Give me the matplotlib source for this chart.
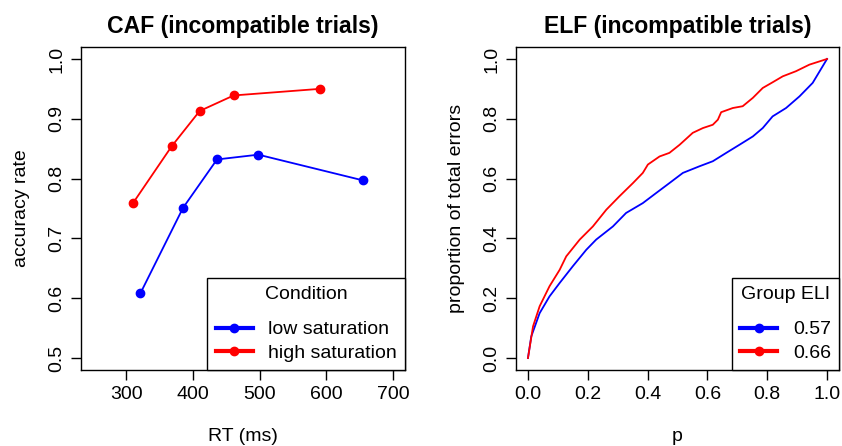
import matplotlib.pyplot as plt
import numpy as np

plt.rcParams['font.family'] = ['Liberation Sans', 'DejaVu Sans']

# CAF data
rt_low = [321, 385, 436, 498, 655]
acc_low = [0.608, 0.751, 0.832, 0.840, 0.797]
rt_high = [310, 368, 410, 461, 590]
acc_high = [0.759, 0.854, 0.913, 0.939, 0.950]
caf_labels = ['low saturation', 'high saturation']

# ELF data
p_057 = [0.0, 0.011, 0.039, 0.072, 0.106, 0.15, 0.195, 0.228, 0.284, 0.328, 0.384,
         0.429, 0.473, 0.518, 0.573, 0.618, 0.663, 0.707, 0.752, 0.785, 0.818,
         0.863, 0.908, 0.952, 1.0]
err_057 = [0.0, 0.072, 0.15, 0.206, 0.251, 0.307, 0.362, 0.396, 0.44, 0.485, 0.518,
           0.552, 0.585, 0.619, 0.641, 0.658, 0.686, 0.713, 0.741, 0.769, 0.808,
           0.836, 0.875, 0.92, 1.0]
p_066 = [0.0, 0.017, 0.039, 0.072, 0.106, 0.128, 0.173, 0.217, 0.262, 0.306, 0.351,
         0.384, 0.401, 0.44, 0.473, 0.507, 0.551, 0.585, 0.618, 0.635, 0.646, 0.685,
         0.718, 0.752, 0.785, 0.818, 0.852, 0.896, 0.941, 1.0]
err_066 = [0.0, 0.106, 0.173, 0.24, 0.295, 0.34, 0.396, 0.44, 0.496, 0.541, 0.585,
           0.619, 0.647, 0.674, 0.686, 0.713, 0.753, 0.769, 0.78, 0.797, 0.822, 0.836,
           0.842, 0.87, 0.903, 0.922, 0.942, 0.959, 0.981, 1.0]
elf_labels = ['0.57', '0.66']

W, H = 842, 446
fig = plt.figure(figsize=(W / 100, H / 100), dpi=100)
ax1 = fig.add_axes([81 / W, (H - 370) / H, 324 / W, 323 / H])
ax2 = fig.add_axes([516 / W, (H - 370) / H, 323 / W, 323 / H])


def style(ax):
    for s in ax.spines.values():
        s.set_linewidth(1.0)
    ax.tick_params(direction='out', length=7, width=1, labelsize=14, pad=4.5)
    for lab in ax.get_yticklabels():
        lab.set_rotation(90)
        lab.set_va('center')


def add_legend(ax, labels, title):
    h = [plt.Line2D([], [], color=c, lw=3, marker='o', ms=6) for c in ['blue', 'red']]
    leg = ax.legend(h, labels, title=title, loc='lower right', fontsize=14,
                    title_fontsize=14, frameon=True, fancybox=False, borderaxespad=0,
                    handlelength=1.9, handletextpad=0.8, borderpad=0.42,
                    labelspacing=0.3)
    leg._legend_box.sep = 13
    leg.get_frame().set_edgecolor('black')
    leg.get_frame().set_linewidth(1.0)
    leg.get_frame().set_alpha(1)


# left panel
ax1.plot(rt_low, acc_low, '-o', color='blue', lw=1.3, ms=6)
ax1.plot(rt_high, acc_high, '-o', color='red', lw=1.3, ms=6)
ax1.set_xlim(250 - 18, 700 + 18)
ax1.set_ylim(0.5 - 0.02, 1.0 + 0.02)
ax1.set_xticks([300, 400, 500, 600, 700])
ax1.set_yticks([0.5, 0.6, 0.7, 0.8, 0.9, 1.0])
ax1.set_yticklabels(['0.5', '0.6', '0.7', '0.8', '0.9', '1.0'])
ax1.set_title('CAF (incompatible trials)', fontsize=16.6, fontweight='bold', pad=10)
ax1.set_xlabel('RT (ms)', fontsize=14, labelpad=18)
ax1.set_ylabel('accuracy rate', fontsize=14, labelpad=13)
style(ax1)
add_legend(ax1, caf_labels, 'Condition')

# right panel
ax2.plot(p_057, err_057, '-', color='blue', lw=1.3)
ax2.plot(p_066, err_066, '-', color='red', lw=1.3)
ax2.set_xlim(-0.04, 1.04)
ax2.set_ylim(-0.04, 1.04)
ax2.set_xticks(np.arange(0, 1.01, 0.2))
ax2.set_xticklabels(['0.0', '0.2', '0.4', '0.6', '0.8', '1.0'])
ax2.set_yticks(np.arange(0, 1.01, 0.2))
ax2.set_yticklabels(['0.0', '0.2', '0.4', '0.6', '0.8', '1.0'])
ax2.set_title('ELF (incompatible trials)', fontsize=16.6, fontweight='bold', pad=10)
ax2.set_xlabel('p', fontsize=14, labelpad=18)
ax2.set_ylabel('proportion of total errors', fontsize=14, labelpad=13)
style(ax2)
add_legend(ax2, elf_labels, 'Group ELI')

fig.savefig('out.png', dpi=100)
